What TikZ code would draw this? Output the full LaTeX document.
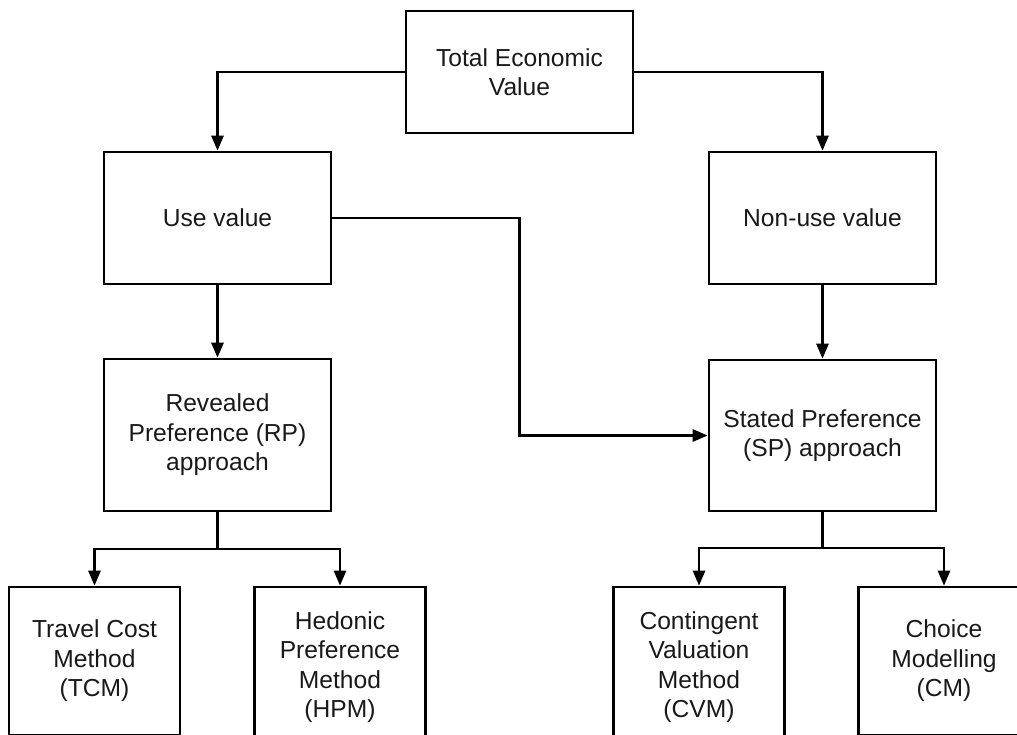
\documentclass[tikz,border=0pt]{standalone}
\usepackage{fontspec}
\setmainfont{Liberation Sans}
\usetikzlibrary{arrows.meta}

\tikzset{
  box/.style={draw=black, line width=2.6pt, rectangle, align=center,
    inner sep=0pt, minimum width=227pt, text=black!90,
    font=\fontsize{24.6}{29.5}\selectfont},
  arr/.style={line width=2.6pt, -{Triangle[length=15pt,width=12pt]}},
  plain/.style={line width=2.6pt}
}

\begin{document}
\begin{tikzpicture}[x=1pt, y=-1pt]
  \useasboundingbox (0,0) rectangle (1017,734);
  \clip (0,0) rectangle (1017,734);

  % top level
  \node[box, minimum height=122pt] (tev) at (519.5,72) {Total Economic\\Value};

  % value categories
  \node[box, minimum height=132pt] (use) at (217.5,218) {Use value};
  \node[box, minimum height=132pt] (nonuse) at (822.5,218) {Non-use value};

  % approaches
  \node[box, minimum height=152pt] (rp) at (217.5,435) {Revealed\\Preference (RP)\\approach};
  \node[box, minimum height=151pt] (sp) at (822.5,435.5) {Stated Preference\\(SP) approach};

  % methods (boxes run past the lower edge)
  \node[box, minimum width=171pt, minimum height=148pt] (tcm) at (94.5,661) {Travel Cost\\Method\\(TCM)};
  \node[box, minimum width=171pt, minimum height=160pt] (hpm) at (340,667) {Hedonic\\Preference\\Method\\(HPM)};
  \node[box, minimum width=171pt, minimum height=160pt] (cvm) at (699,667) {Contingent\\Valuation\\Method\\(CVM)};
  \node[box, minimum width=171pt, minimum height=148pt] (cm) at (944,661) {Choice\\Modelling\\(CM)};

  % connectors
  \draw[arr] (tev.west) -| (use.north);
  \draw[arr] (tev.east) -| (nonuse.north);
  \draw[arr] (use.south) -- (rp.north);
  \draw[arr] (nonuse.south) -- (sp.north);
  \draw[arr] (use.east) -- (use.east -| tev.south) |- (sp.west);

  \coordinate (rpfork) at (217.5,549);
  \coordinate (spfork) at (822.5,548);
  \draw[plain] (rp.south) -- (rpfork);
  \draw[arr] (rpfork) -| (tcm.north);
  \draw[arr] (rpfork) -| (hpm.north);
  \draw[plain] (sp.south) -- (spfork);
  \draw[arr] (spfork) -| (cvm.north);
  \draw[arr] (spfork) -| (cm.north);
\end{tikzpicture}
\end{document}
